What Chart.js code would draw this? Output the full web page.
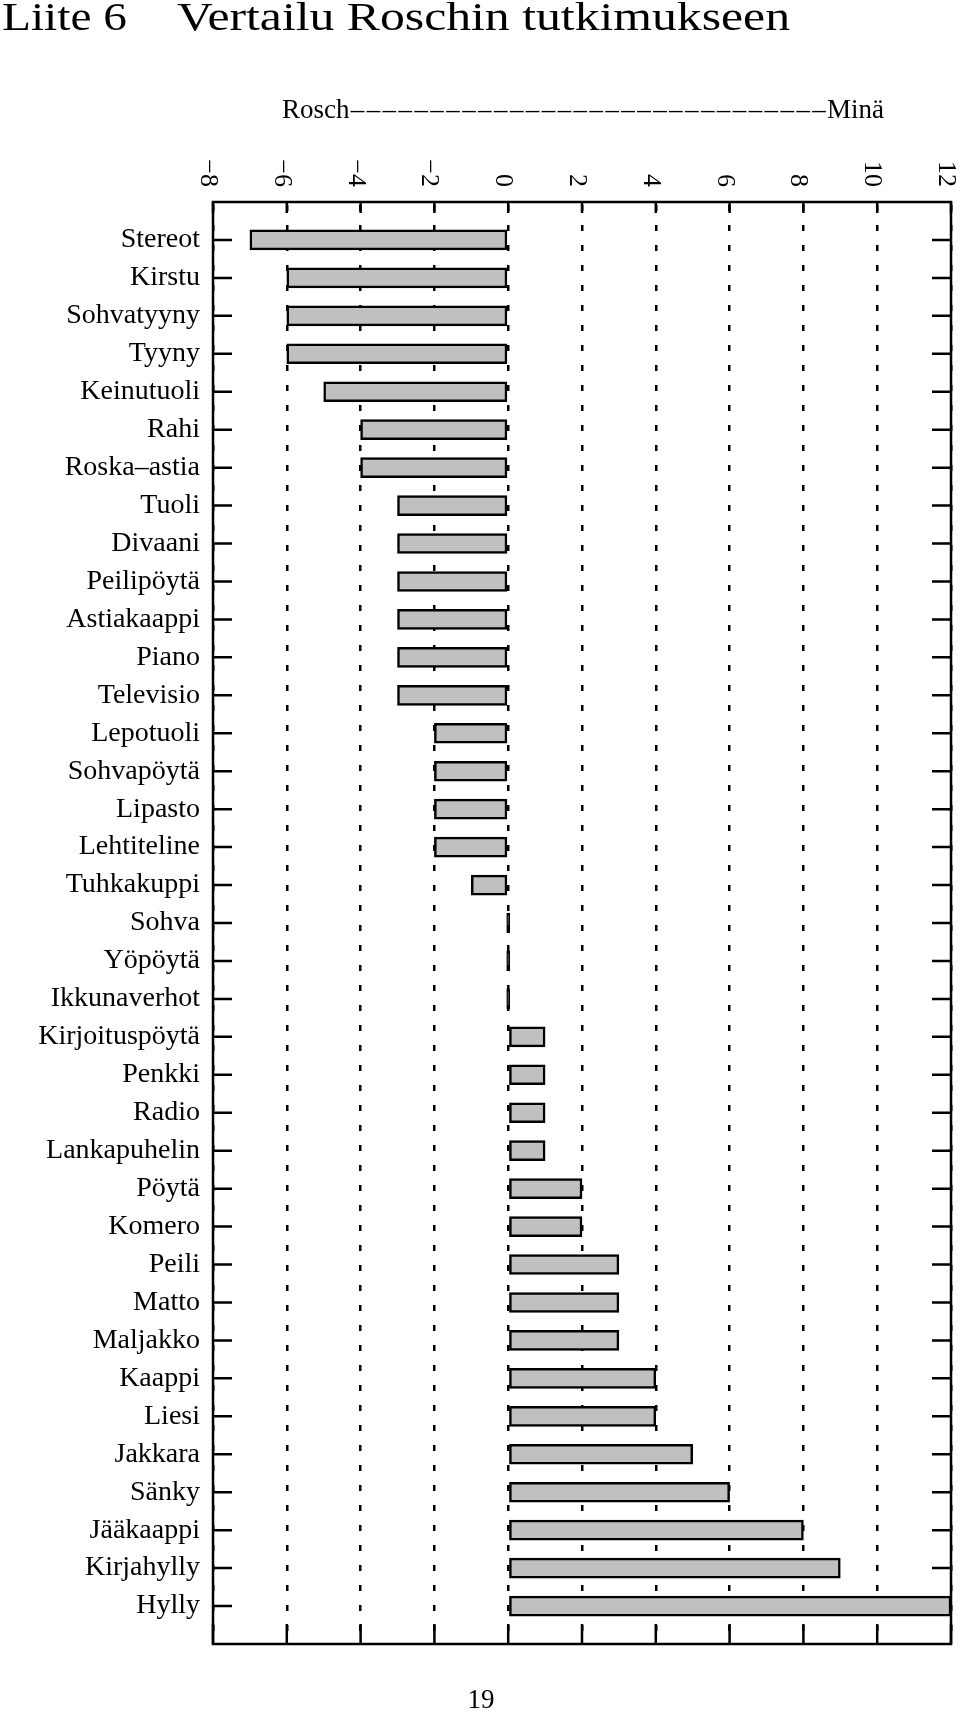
<!DOCTYPE html>
<html>
<head>
<meta charset="utf-8">
<script src="https://cdn.jsdelivr.net/npm/chart.js@4.4.0/dist/chart.umd.min.js"></script>
<style>
  html, body { margin: 0; padding: 0; background: #fff; }
  #wrap { position: relative; width: 960px; height: 1713px; }
</style>
</head>
<body>
<div id="wrap"><canvas id="chart" width="960" height="1713"></canvas></div>
<script>
/* ============================================
   DATA
============================================ */

const categories = [
    "Stereot", "Kirstu", "Sohvatyyny", "Tyyny", "Keinutuoli", "Rahi",
    "Roska\u2013astia", "Tuoli", "Divaani", "Peilipöytä", "Astiakaappi",
    "Piano", "Televisio", "Lepotuoli", "Sohvapöytä", "Lipasto",
    "Lehtiteline", "Tuhkakuppi", "Sohva", "Yöpöytä", "Ikkunaverhot",
    "Kirjoituspöytä", "Penkki", "Radio", "Lankapuhelin", "Pöytä",
    "Komero", "Peili", "Matto", "Maljakko", "Kaappi", "Liesi",
    "Jakkara", "Sänky", "Jääkaappi", "Kirjahylly", "Hylly"
];

const scores = [
    -7, -6, -6, -6, -5, -4,
    -4, -3, -3, -3, -3,
    -3, -3, -2, -2, -2,
    -2, -1, 0, 0, 0,
    1, 1, 1, 1, 2,
    2, 3, 3, 3, 4, 4,
    5, 6, 8, 9, 12
];

const xTicks = [-8, -6, -4, -2, 0, 2, 4, 6, 8, 10, 12];

const titleParts = ["Liite 6", "Vertailu Roschin tutkimukseen"];
const scaleEnds = ["Rosch", "Minä"];
const pageNumber = "19";

/* ============================================
   HELPERS
============================================ */

const serif = '"Liberation Serif", "Times New Roman", serif';

// one empty row above and below the list
const rows = [""].concat(categories, [""]);
const rowValues = [null].concat(scores, [null]);

function fmt(v) {
    return v < 0 ? "\u2212" + Math.abs(v) : String(v);
}

// text stretched to a given width (the original is set in a wider face)
function fitText(ctx, text, x, y, width) {
    const w = ctx.measureText(text).width;
    ctx.save();
    ctx.translate(x, y);
    ctx.scale(width / w, 1);
    ctx.fillText(text, 0, 0);
    ctx.restore();
}

/* ============================================
   Inward ticks (under the bars), frame and page texts
============================================ */

const paperPlugin = {
    id: "paper",
    beforeDatasetsDraw(chart) {
        const { ctx, chartArea: a, scales } = chart;
        const x = scales.x;
        const y = scales.y;

        ctx.save();
        ctx.strokeStyle = "#000";
        ctx.lineWidth = 2.5;
        ctx.beginPath();
        x.ticks.forEach(t => {
            const px = x.getPixelForValue(t.value);
            ctx.moveTo(px, a.bottom);
            ctx.lineTo(px, a.bottom - 20);
            ctx.moveTo(px, a.top);
            ctx.lineTo(px, a.top + 11);
        });
        y.ticks.forEach((t, i) => {
            if (!rows[i]) return;
            const py = y.getPixelForTick(i);
            ctx.moveTo(a.left, py);
            ctx.lineTo(a.left + 19, py);
            ctx.moveTo(a.right, py);
            ctx.lineTo(a.right - 19, py);
        });
        ctx.stroke();
        ctx.restore();
    },
    afterDraw(chart) {
        const { ctx, chartArea: a, scales } = chart;
        const x = scales.x;

        ctx.save();
        ctx.strokeStyle = "#000";
        ctx.fillStyle = "#000";
        ctx.lineWidth = 2.5;
        ctx.strokeRect(a.left, a.top, a.right - a.left, a.bottom - a.top);

        // rotated tick labels above the frame
        ctx.font = "26px " + serif;
        ctx.textAlign = "right";
        ctx.textBaseline = "alphabetic";
        x.ticks.forEach(t => {
            const px = x.getPixelForValue(t.value);
            ctx.save();
            ctx.translate(px - 12, a.top - 15);
            ctx.rotate(Math.PI / 2);
            ctx.fillText(fmt(t.value), 0, 0);
            ctx.restore();
        });

        // title
        ctx.textAlign = "left";
        ctx.font = "40px " + serif;
        fitText(ctx, titleParts[0], 2, 30, 125);
        fitText(ctx, titleParts[1], 177, 30, 613);

        // Rosch ---- Minä
        ctx.font = "27px " + serif;
        const left = 282, right = 884, base = 118;
        ctx.fillText(scaleEnds[0], left, base);
        ctx.textAlign = "right";
        ctx.fillText(scaleEnds[1], right, base);
        const from = left + ctx.measureText(scaleEnds[0]).width;
        const to = right - ctx.measureText(scaleEnds[1]).width;
        const n = 30;
        const step = (to - from) / n;
        ctx.textAlign = "center";
        for (let i = 0; i < n; i++) {
            ctx.fillText("\u2013", from + step * (i + 0.5), base);
        }

        // page number
        ctx.fillText(pageNumber, 481, 1708);
        ctx.restore();
    }
};

/* ============================================
   CHART
============================================ */

new Chart(document.getElementById("chart"), {
    type: "bar",
    data: {
        labels: rows,
        datasets: [{
            data: rowValues,
            // a zero score shows only as a solid line on the zero axis
            backgroundColor: c => (c.raw === 0 ? "#000" : "#c0c0c0"),
            borderColor: "#000",
            borderWidth: 2.5,
            borderSkipped: false,
            barThickness: 20,
            minBarLength: 3
        }]
    },
    options: {
        indexAxis: "y",
        responsive: false,
        animation: false,
        events: [],
        layout: { padding: { top: 0, left: 0, right: 9, bottom: 69 } },
        plugins: {
            legend: { display: false },
            tooltip: { enabled: false }
        },
        scales: {
            x: {
                type: "linear",
                position: "top",
                min: xTicks[0],
                max: xTicks[xTicks.length - 1],
                afterBuildTicks: s => { s.ticks = xTicks.map(v => ({ value: v })); },
                afterFit: s => { s.height = 202; },
                ticks: { display: false },
                grid: { color: "#000", lineWidth: 2.5, drawTicks: false },
                border: { display: false, dash: [6, 14], dashOffset: -3 }
            },
            y: {
                type: "category",
                offset: false,
                afterFit: s => { s.width = 213; },
                grid: { display: false, drawTicks: false },
                border: { display: false },
                ticks: {
                    autoSkip: false,
                    padding: 13,
                    color: "#000",
                    font: { family: serif, size: 28 }
                }
            }
        }
    },
    plugins: [paperPlugin]
});
</script>
</body>
</html>
